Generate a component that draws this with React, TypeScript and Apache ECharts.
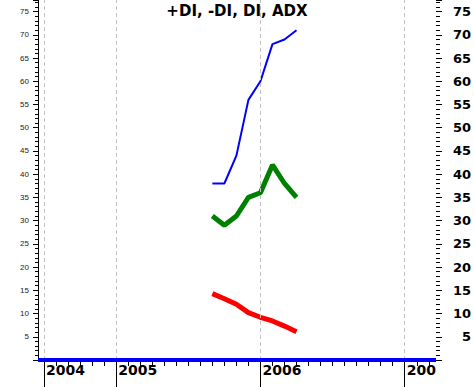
import React, { useEffect, useRef } from "react";
import * as echarts from "echarts";

// Month index: 0 = Jan 2004, 12 = Jan 2005, 24 = Jan 2006, 36 = Jan 2007
const months = [20, 21, 22, 23, 24, 25, 26, 27];
const adx = [38, 38, 44, 56, 60, 68, 69, 71];
const plusDI = [31, 29, 31, 35, 36, 42, 38, 35];
const minusDI = [14.3, 13.2, 12, 10.2, 9.2, 8.4, 7.3, 6.1];
const diLevel = 0;

const yearTicks = [6, 12, 24, 36];
const yearLabels = ["2004", "2005", "2006", "2007"];
const monthTicks = Array.from({ length: 33 }, (_, i) => 6 + i);

const X_MIN = 5.5;
const X_MAX = 38.6;
const Y_MAX = 77.5;

export default function App() {
  const ref = useRef<HTMLDivElement>(null);
  useEffect(() => {
    document.body.style.margin = "0";
    if (!ref.current) return;
    const chart = echarts.init(ref.current, undefined, { renderer: "svg" });
    const font = "DejaVu Sans";
    chart.setOption({
      animation: false,
      backgroundColor: "#ffffff",
      title: {
        text: "+DI, -DI, DI, ADX",
        left: "center",
        top: 3,
        padding: 0,
        textStyle: { fontFamily: font, fontSize: 15, fontWeight: "bold", color: "#000" },
      },
      grid: { left: 38, right: 38, top: 0, bottom: 27 },
      xAxis: [
        {
          type: "value",
          min: X_MIN,
          max: X_MAX,
          position: "bottom",
          axisLine: { show: true, onZero: false, lineStyle: { color: "#000", width: 1 } },
          axisTick: { show: true, customValues: monthTicks, length: 6, lineStyle: { color: "#000" } },
          axisLabel: { show: false },
          splitLine: { show: false },
        },
        {
          type: "value",
          min: X_MIN,
          max: X_MAX,
          position: "bottom",
          axisLine: { show: false, onZero: false },
          axisTick: { show: true, customValues: yearTicks, length: 27, lineStyle: { color: "#000" } },
          axisLabel: {
            show: true,
            customValues: yearTicks,
            formatter: (v: number) => {
              const i = yearTicks.indexOf(v);
              return i >= 0 ? yearLabels[i] : "";
            },
            align: "left",
            margin: 3,
            padding: [0, 0, 0, 2],
            fontFamily: font,
            fontSize: 14,
            fontWeight: "bold",
            color: "#000",
          },
          splitLine: { show: false },
        },
      ],
      yAxis: [
        {
          type: "value",
          position: "left",
          min: 0,
          max: Y_MAX,
          interval: 5,
          axisLine: { show: true, lineStyle: { color: "#000" } },
          axisTick: { show: true, length: 5, lineStyle: { color: "#000" } },
          minorTick: { show: true, splitNumber: 5, length: 3, lineStyle: { color: "#000" } },
          axisLabel: {
            fontFamily: "Liberation Sans",
            fontSize: 8,
            color: "#222",
            margin: 9,
            formatter: (v: number) => (v > 0 && v % 5 === 0 ? String(v) : ""),
          },
          splitLine: { show: false },
        },
        {
          type: "value",
          position: "right",
          min: 0,
          max: Y_MAX,
          interval: 5,
          axisLine: { show: false },
          axisTick: { show: true, length: 6, lineStyle: { color: "#000" } },
          minorTick: { show: true, splitNumber: 5, length: 4, lineStyle: { color: "#000" } },
          axisLabel: {
            fontFamily: font,
            fontSize: 13,
            fontWeight: "bold",
            color: "#000",
            align: "right",
            margin: 35,
            formatter: (v: number) => (v > 0 && v % 5 === 0 ? String(v) : ""),
          },
          splitLine: { show: false },
        },
      ],
      graphic: [
        {
          type: "rect",
          shape: { x: 436.5, y: 361, width: 40, height: 30 },
          style: { fill: "#ffffff" },
          z: 100,
        },
      ],
      series: [
        {
          name: "grid",
          type: "line",
          data: [],
          z: 1,
          markLine: {
            silent: true,
            symbol: ["none", "none"],
            label: { show: false },
            lineStyle: { color: "#c0c0c0", type: [4, 3], width: 1 },
            data: yearTicks.map((v) => ({ xAxis: v })),
          },
        },
        {
          name: "DI",
          type: "line",
          data: [],
          z: 3,
          markLine: {
            silent: true,
            symbol: ["none", "none"],
            label: { show: false },
            lineStyle: { color: "#0000ff", type: "solid", width: 4 },
            data: [{ yAxis: diLevel }],
          },
        },
        {
          name: "ADX",
          type: "line",
          data: months.map((m, i) => [m, adx[i]]),
          showSymbol: false,
          lineStyle: { color: "#0000ff", width: 2 },
          z: 4,
        },
        {
          name: "+DI",
          type: "line",
          data: months.map((m, i) => [m, plusDI[i]]),
          showSymbol: false,
          lineStyle: { color: "#008000", width: 5 },
          z: 4,
        },
        {
          name: "-DI",
          type: "line",
          data: months.map((m, i) => [m, minusDI[i]]),
          showSymbol: false,
          lineStyle: { color: "#ff0000", width: 5 },
          z: 4,
        },
      ],
    });
    return () => chart.dispose();
  }, []);
  return <div ref={ref} style={{ width: 474, height: 387 }} />;
}
